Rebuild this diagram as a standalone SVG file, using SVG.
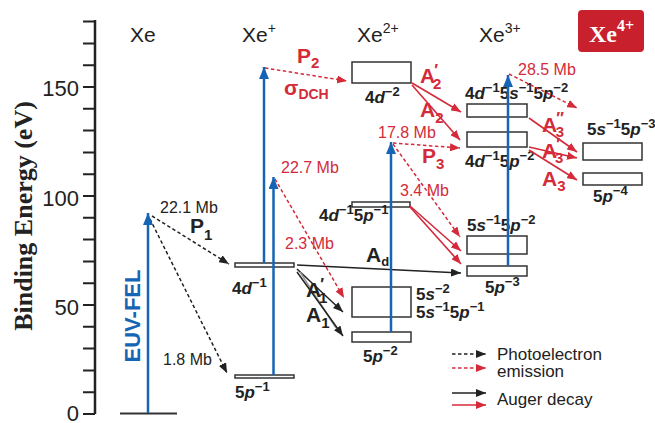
<svg xmlns="http://www.w3.org/2000/svg" width="655" height="423" viewBox="0 0 655 423">
<defs>
<style>
text{font-family:"Liberation Sans",Arial,sans-serif}
.lvl{fill:#fff;stroke:#333;stroke-width:1.5}
.cfg{font-weight:bold;font-size:17px;fill:#222}
.i{font-style:italic}
.sup{font-size:13px}
.hdr{font-size:21px;fill:#222}
.tick{font-size:22px;fill:#222;text-anchor:end}
.mb{font-size:16px;fill:#222}
.mbr{font-size:16px;fill:#d42a3a}
.lab{font-weight:bold;font-size:21px;fill:#222}
.labr{font-weight:bold;font-size:21px;fill:#d42a3a}
.sub{font-size:15px}
.pr{font-size:16px}
.pe{fill:none;stroke:#222;stroke-width:1.5;stroke-dasharray:3.5 2.5}
.per{fill:none;stroke:#d42a3a;stroke-width:1.5;stroke-dasharray:3.5 2.5}
.au{fill:none;stroke:#222;stroke-width:1.5}
.aur{fill:none;stroke:#d42a3a;stroke-width:1.6}
.blue{fill:none;stroke:#1565b4;stroke-width:2.5}
.leg{font-size:17px;fill:#222}
</style>
<marker id="mk" markerUnits="userSpaceOnUse" markerWidth="10" markerHeight="8" refX="10" refY="4" orient="auto"><path d="M0,0L10,4L0,8z" fill="#222"/></marker>
<marker id="mr" markerUnits="userSpaceOnUse" markerWidth="10" markerHeight="8" refX="10" refY="4" orient="auto"><path d="M0,0L10,4L0,8z" fill="#d42a3a"/></marker>
<marker id="mb" markerUnits="userSpaceOnUse" markerWidth="12" markerHeight="10" refX="12" refY="5" orient="auto"><path d="M0,0L12,5L0,10z" fill="#1565b4"/></marker>
</defs>
<rect width="655" height="423" fill="#fff"/>

<g id="axis">
<path d="M95,20V414" stroke="#222" stroke-width="2.5"/>
<path d="M83,414H95M83,392.2H95M83,370.4H95M83,348.6H95M83,326.8H95M83,305H95M83,283.2H95M83,261.4H95M83,239.6H95M83,217.8H95M83,196H95M83,174.2H95M83,152.4H95M83,130.6H95M83,108.8H95M83,87H95M83,65.2H95M83,43.4H95M83,21.6H95" stroke="#222" stroke-width="2"/>
<text class="tick" x="79" y="96">150</text>
<text class="tick" x="79" y="206">100</text>
<text class="tick" x="79" y="315">50</text>
<text class="tick" x="79" y="421">0</text>
<text transform="translate(32,216) rotate(-90)" text-anchor="middle" style="font-family:'Liberation Serif','Times New Roman',serif;font-weight:bold;font-size:26px;fill:#222">Binding Energy (eV)</text>
</g>

<g id="headers">
<text class="hdr" x="130" y="42">Xe</text>
<text class="hdr" x="242" y="42">Xe<tspan font-size="14" dy="-9">+</tspan></text>
<text class="hdr" x="357" y="42">Xe<tspan font-size="14" dy="-9">2+</tspan></text>
<text class="hdr" x="479" y="42">Xe<tspan font-size="14" dy="-9">3+</tspan></text>
<g id="xe4">
<rect x="578" y="10" width="66" height="42" rx="4" fill="#c9202e"/>
<text x="589" y="42" style="font-family:'Liberation Serif','Times New Roman',serif;font-weight:bold;font-size:24px;fill:#fff">Xe<tspan font-size="16" dy="-11">4+</tspan></text>
</g>
</g>

<g id="lvl-xe0"><path d="M120,413.5H177" stroke="#333" stroke-width="1.8"/></g>
<g id="lvl-4d1"><rect class="lvl" x="235" y="263" width="59" height="4" stroke-width="1.2"/>
<text class="cfg" x="232" y="294">4<tspan class="i">d</tspan><tspan class="sup" dy="-7">−1</tspan></text></g>
<g id="lvl-5p1"><rect class="lvl" x="235" y="375" width="59" height="3" stroke-width="1.2"/>
<text class="cfg" x="235" y="398">5<tspan class="i">p</tspan><tspan class="sup" dy="-7">−1</tspan></text></g>

<g id="lvl-4d2"><rect class="lvl" x="352" y="62" width="59" height="21"/>
<text class="cfg" x="365" y="103">4<tspan class="i">d</tspan><tspan class="sup" dy="-7">−2</tspan></text></g>
<g id="lvl-4d15p1"><rect class="lvl" x="352" y="202" width="58" height="5" stroke-width="1.2"/>
<text class="cfg" x="319" y="221">4<tspan class="i">d</tspan><tspan class="sup" dy="-7">−1</tspan><tspan dy="7">5</tspan><tspan class="i">p</tspan><tspan class="sup" dy="-7">−1</tspan></text></g>
<g id="lvl-5s2"><rect class="lvl" x="352" y="287" width="59" height="30"/>
<text class="cfg" x="416" y="300">5<tspan class="i">s</tspan><tspan class="sup" dy="-7">−2</tspan></text>
<text class="cfg" x="416" y="318">5<tspan class="i">s</tspan><tspan class="sup" dy="-7">−1</tspan><tspan dy="7">5</tspan><tspan class="i">p</tspan><tspan class="sup" dy="-7">−1</tspan></text></g>
<g id="lvl-5p2"><rect class="lvl" x="352" y="332" width="59" height="10"/>
<text class="cfg" x="363" y="362">5<tspan class="i">p</tspan><tspan class="sup" dy="-7">−2</tspan></text></g>

<g id="lvl-4d15s15p2"><rect class="lvl" x="467" y="104" width="60" height="13"/>
<text class="cfg" x="465" y="99">4<tspan class="i">d</tspan><tspan class="sup" dy="-7">−1</tspan><tspan dy="7">5</tspan><tspan class="i">s</tspan><tspan class="sup" dy="-7">−1</tspan><tspan dy="7">5</tspan><tspan class="i">p</tspan><tspan class="sup" dy="-7">−2</tspan></text></g>
<g id="lvl-4d15p2"><rect class="lvl" x="467" y="132" width="60" height="15"/>
<text class="cfg" x="465" y="167">4<tspan class="i">d</tspan><tspan class="sup" dy="-7">−1</tspan><tspan dy="7">5</tspan><tspan class="i">p</tspan><tspan class="sup" dy="-7">−2</tspan></text></g>
<g id="lvl-5s15p2"><rect class="lvl" x="467" y="236" width="60" height="18"/>
<text class="cfg" x="467" y="231">5<tspan class="i">s</tspan><tspan class="sup" dy="-7">−1</tspan><tspan dy="7">5</tspan><tspan class="i">p</tspan><tspan class="sup" dy="-7">−2</tspan></text></g>
<g id="lvl-5p3"><rect class="lvl" x="467" y="266" width="60" height="10"/>
<text class="cfg" x="485" y="293">5<tspan class="i">p</tspan><tspan class="sup" dy="-7">−3</tspan></text></g>

<g id="lvl-5s15p3"><rect class="lvl" x="583" y="143" width="59" height="17"/>
<text class="cfg" x="587" y="135">5<tspan class="i">s</tspan><tspan class="sup" dy="-7">−1</tspan><tspan dy="7">5</tspan><tspan class="i">p</tspan><tspan class="sup" dy="-7">−3</tspan></text></g>
<g id="lvl-5p4"><rect class="lvl" x="583" y="173" width="59" height="12"/>
<text class="cfg" x="593" y="202">5<tspan class="i">p</tspan><tspan class="sup" dy="-7">−4</tspan></text></g>

<g id="connectors">
<path class="pe" d="M152,216L229,264" marker-end="url(#mk)"/>
<path class="pe" d="M150,219L227,373" marker-end="url(#mk)"/>
<path class="per" d="M265,68L347,81" marker-end="url(#mr)"/>
<path class="per" d="M275,179L344,298" marker-end="url(#mr)"/>
<path class="per" d="M393,143L460,148" marker-end="url(#mr)"/>
<path class="per" d="M393,144L460,237" marker-end="url(#mr)"/>
<path class="per" d="M509,74L577,108" marker-end="url(#mr)"/>
<path class="au" d="M297,265L461,273" marker-end="url(#mk)"/>
<path class="au" d="M297,269L343,312" marker-end="url(#mk)"/>
<path d="M300,272L336,328" stroke="#999" stroke-width="1.5"/>
<path class="au" d="M297,272L343,336" marker-end="url(#mk)"/>
<path class="aur" d="M412,83L461,112" marker-end="url(#mr)"/>
<path class="aur" d="M412,85L460,140" marker-end="url(#mr)"/>
<path class="aur" d="M410,206L461,251" marker-end="url(#mr)"/>
<path class="aur" d="M410,207L461,264" marker-end="url(#mr)"/>
<path class="aur" d="M529,118L577,152" marker-end="url(#mr)"/>
<path class="aur" d="M529,147L577,158" marker-end="url(#mr)"/>
<path class="aur" d="M529,150L577,180" marker-end="url(#mr)"/>
<path class="blue" d="M148,413V213" marker-end="url(#mb)"/>
<path class="blue" d="M264,263V67" marker-end="url(#mb)"/>
<path class="blue" d="M273.5,375V177" marker-end="url(#mb)"/>
<path class="blue" d="M391,332V142" marker-end="url(#mb)"/>
<path class="blue" d="M508,266V75" marker-end="url(#mb)"/>
</g>

<g id="labels">
<text transform="translate(140,316) rotate(-90)" text-anchor="middle" style="font-weight:bold;font-size:22px;fill:#1565b4">EUV-FEL</text>
<text class="mb" x="160" y="213">22.1 Mb</text>
<text class="mb" x="163" y="365">1.8 Mb</text>
<text class="lab" x="190" y="233">P<tspan class="sub" dy="7">1</tspan></text>
<text class="labr" x="297" y="63">P<tspan class="sub" dy="5">2</tspan></text>
<text class="labr" x="284" y="95" font-size="24">σ<tspan font-size="14" dy="4">DCH</tspan></text>
<text class="mbr" x="281" y="173">22.7 Mb</text>
<text class="mbr" x="285" y="249">2.3 Mb</text>
<text class="mbr" x="378" y="138">17.8 Mb</text>
<text class="mbr" x="400" y="196">3.4 Mb</text>
<text class="mbr" x="518" y="75">28.5 Mb</text>
<text class="labr" x="422" y="163">P<tspan class="sub" dy="6">3</tspan></text>
<text class="lab" x="366" y="262" font-size="17">A<tspan font-size="13" dy="4">d</tspan></text>
<text class="lab" x="306" y="297" font-size="20">A<tspan class="pr" dx="-1" dy="-7">′</tspan><tspan class="sub" dx="-5" dy="13">1</tspan></text>
<text class="lab" x="306" y="322" font-size="20">A<tspan class="sub" dy="6">1</tspan></text>
<text class="labr" x="420" y="83">A<tspan class="pr" dx="-1" dy="-7">′</tspan><tspan class="sub" dx="-5" dy="13">2</tspan></text>
<text class="labr" x="420" y="117">A<tspan class="sub" dy="6">2</tspan></text>
<text class="labr" x="542" y="132">A<tspan class="pr" dx="-1" dy="-8">″</tspan><tspan class="sub" dx="-8" dy="13">3</tspan></text>
<text class="labr" x="542" y="158">A<tspan class="pr" dx="-1" dy="-8">′</tspan><tspan class="sub" dx="-5" dy="13">3</tspan></text>
<text class="labr" x="542" y="186">A<tspan class="sub" dy="5">3</tspan></text>
</g>

<g id="legend">
<path class="pe" d="M452,354H486" marker-end="url(#mk)"/>
<path class="per" d="M452,368H486" marker-end="url(#mr)"/>
<path class="au" d="M452,393H486" marker-end="url(#mk)"/>
<path class="aur" d="M452,405H486" marker-end="url(#mr)"/>
<text class="leg" x="497" y="360">Photoelectron</text>
<text class="leg" x="497" y="377">emission</text>
<text class="leg" x="497" y="405">Auger decay</text>
</g>
</svg>
